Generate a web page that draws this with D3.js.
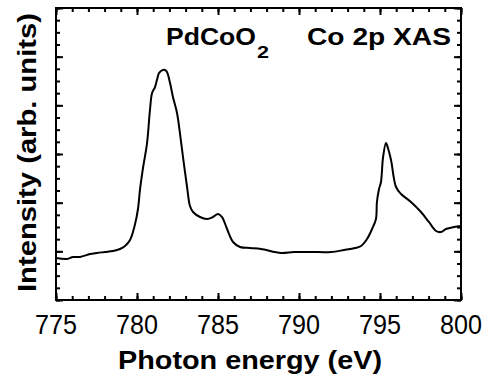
<!DOCTYPE html>
<html>
<head>
<meta charset="utf-8">
<script src="https://cdn.jsdelivr.net/npm/d3@7"></script>
<style>
  html, body { margin: 0; padding: 0; background: #fff; }
  svg { display: block; }
  text { font-family: "Liberation Sans", Arial, Helvetica, sans-serif; fill: #000; }
</style>
</head>
<body>
<svg id="chart" width="488" height="378"></svg>
<script>
// ---- data ----
const energy = [775.0, 775.68, 776.05, 776.48, 777.1, 777.53, 778.02, 778.52, 778.95, 779.26,
  779.57, 779.88, 780.06, 780.19, 780.37, 780.62, 780.80, 780.93, 781.11, 781.23,
  781.36, 781.48, 781.60, 781.73, 781.85, 782.04, 782.22, 782.47, 782.65, 782.84,
  783.09, 783.27, 783.46, 783.89, 784.32, 784.69, 785.0, 785.25, 785.56, 785.93,
  786.36, 786.98, 787.65, 788.89, 789.69, 790.74, 791.98, 792.78, 793.46, 793.83,
  794.2, 794.51, 794.75, 794.81, 794.94, 795.06, 795.19, 795.37, 795.49, 795.68,
  795.99, 796.30, 796.91, 797.53, 798.02, 798.46, 798.77, 799.07, 799.57, 800.0];
const intensity = [0.863, 0.842, 0.884, 0.884, 0.945, 0.966, 0.986, 1.007, 1.048, 1.11,
  1.233, 1.562, 1.870, 2.281, 2.712, 3.226, 3.904, 4.253, 4.376, 4.520,
  4.664, 4.705, 4.726, 4.726, 4.685, 4.459, 4.171, 3.842, 3.431, 2.938,
  2.322, 1.931, 1.808, 1.705, 1.664, 1.705, 1.767, 1.705, 1.459, 1.192,
  1.089, 1.068, 1.048, 0.966, 0.986, 0.986, 0.986, 1.027, 1.068, 1.110,
  1.253, 1.459, 1.664, 2.014, 2.281, 2.424, 2.938, 3.226, 3.123, 2.877,
  2.322, 2.178, 2.014, 1.808, 1.603, 1.418, 1.397, 1.459, 1.500, 1.520];
const xTickLabels = [775, 780, 785, 790, 795, 800];
const xDomain = [775, 800];
const yDomain = [0, 6];
const xLabel = "Photon energy (eV)";
const yLabel = "Intensity (arb. units)";
const titleLeft = "PdCoO";
const titleLeftSub = "2";
const titleRight = "Co 2p XAS";

// ---- layout ----
const svg = d3.select("#chart");
const L = 56, R = 461, T = 8, B = 300;
const x = d3.scaleLinear().domain(xDomain).range([L, R]);
const y = d3.scaleLinear().domain(yDomain).range([B, T]);

const xMinor = d3.range(xDomain[0], xDomain[1] + 0.001, 1);
const xMajor = xTickLabels;
const yMinor = d3.range(yDomain[0], yDomain[1] + 0.001, 0.25);
const yMajor = d3.range(yDomain[0], yDomain[1] + 0.001, 1);

function tickAxis(gen, scale, vals, size, transform) {
  const g = svg.append("g").attr("transform", transform)
    .call(gen(scale).tickValues(vals).tickSize(size).tickFormat(""));
  g.select(".domain").remove();
  g.selectAll("line").attr("stroke", "#000").attr("stroke-width", 2);
  return g;
}
// inward ticks on all four sides
tickAxis(d3.axisBottom, x, xMinor, -4, `translate(0,${B})`);
tickAxis(d3.axisBottom, x, xMajor, -7, `translate(0,${B})`);
tickAxis(d3.axisTop, x, xMinor, -4, `translate(0,${T})`);
tickAxis(d3.axisTop, x, xMajor, -7, `translate(0,${T})`);
tickAxis(d3.axisLeft, y, yMinor, -4, `translate(${L},0)`);
tickAxis(d3.axisLeft, y, yMajor, -7, `translate(${L},0)`);
tickAxis(d3.axisRight, y, yMinor, -4, `translate(${R},0)`);
tickAxis(d3.axisRight, y, yMajor, -7, `translate(${R},0)`);

// frame
svg.append("rect").attr("x", L).attr("y", T).attr("width", R - L).attr("height", B - T)
  .attr("fill", "none").attr("stroke", "#000").attr("stroke-width", 2);

// tick labels
svg.append("g").selectAll("text").data(xTickLabels).join("text")
  .attr("x", d => x(d)).attr("y", 334)
  .attr("text-anchor", "middle")
  .attr("font-size", 27)
  .attr("textLength", 42).attr("lengthAdjust", "spacingAndGlyphs")
  .text(d => d);

// axis titles
svg.append("text").attr("x", 118).attr("y", 369)
  .attr("font-size", 25).attr("font-weight", "bold")
  .attr("textLength", 264).attr("lengthAdjust", "spacingAndGlyphs")
  .text(xLabel);
svg.append("text")
  .attr("transform", "translate(36,292) rotate(-90)")
  .attr("font-size", 25).attr("font-weight", "bold")
  .attr("textLength", 279).attr("lengthAdjust", "spacingAndGlyphs")
  .text(yLabel);

// in-plot labels
svg.append("text").attr("x", 166).attr("y", 45)
  .attr("font-size", 24).attr("font-weight", "bold")
  .attr("textLength", 90).attr("lengthAdjust", "spacingAndGlyphs")
  .text(titleLeft);
svg.append("text").attr("x", 257).attr("y", 58)
  .attr("font-size", 17).attr("font-weight", "bold")
  .attr("textLength", 12).attr("lengthAdjust", "spacingAndGlyphs")
  .text(titleLeftSub);
svg.append("text").attr("x", 307).attr("y", 45)
  .attr("font-size", 24).attr("font-weight", "bold")
  .attr("textLength", 144).attr("lengthAdjust", "spacingAndGlyphs")
  .text(titleRight);

// spectrum
const pts = energy.map((e, i) => [e, intensity[i]]);
const line = d3.line().x(d => x(d[0])).y(d => y(d[1])).curve(d3.curveCatmullRom.alpha(0.5));
svg.append("path").datum(pts)
  .attr("d", line)
  .attr("fill", "none").attr("stroke", "#000").attr("stroke-width", 2)
  .attr("stroke-linejoin", "round");
</script>
</body>
</html>
